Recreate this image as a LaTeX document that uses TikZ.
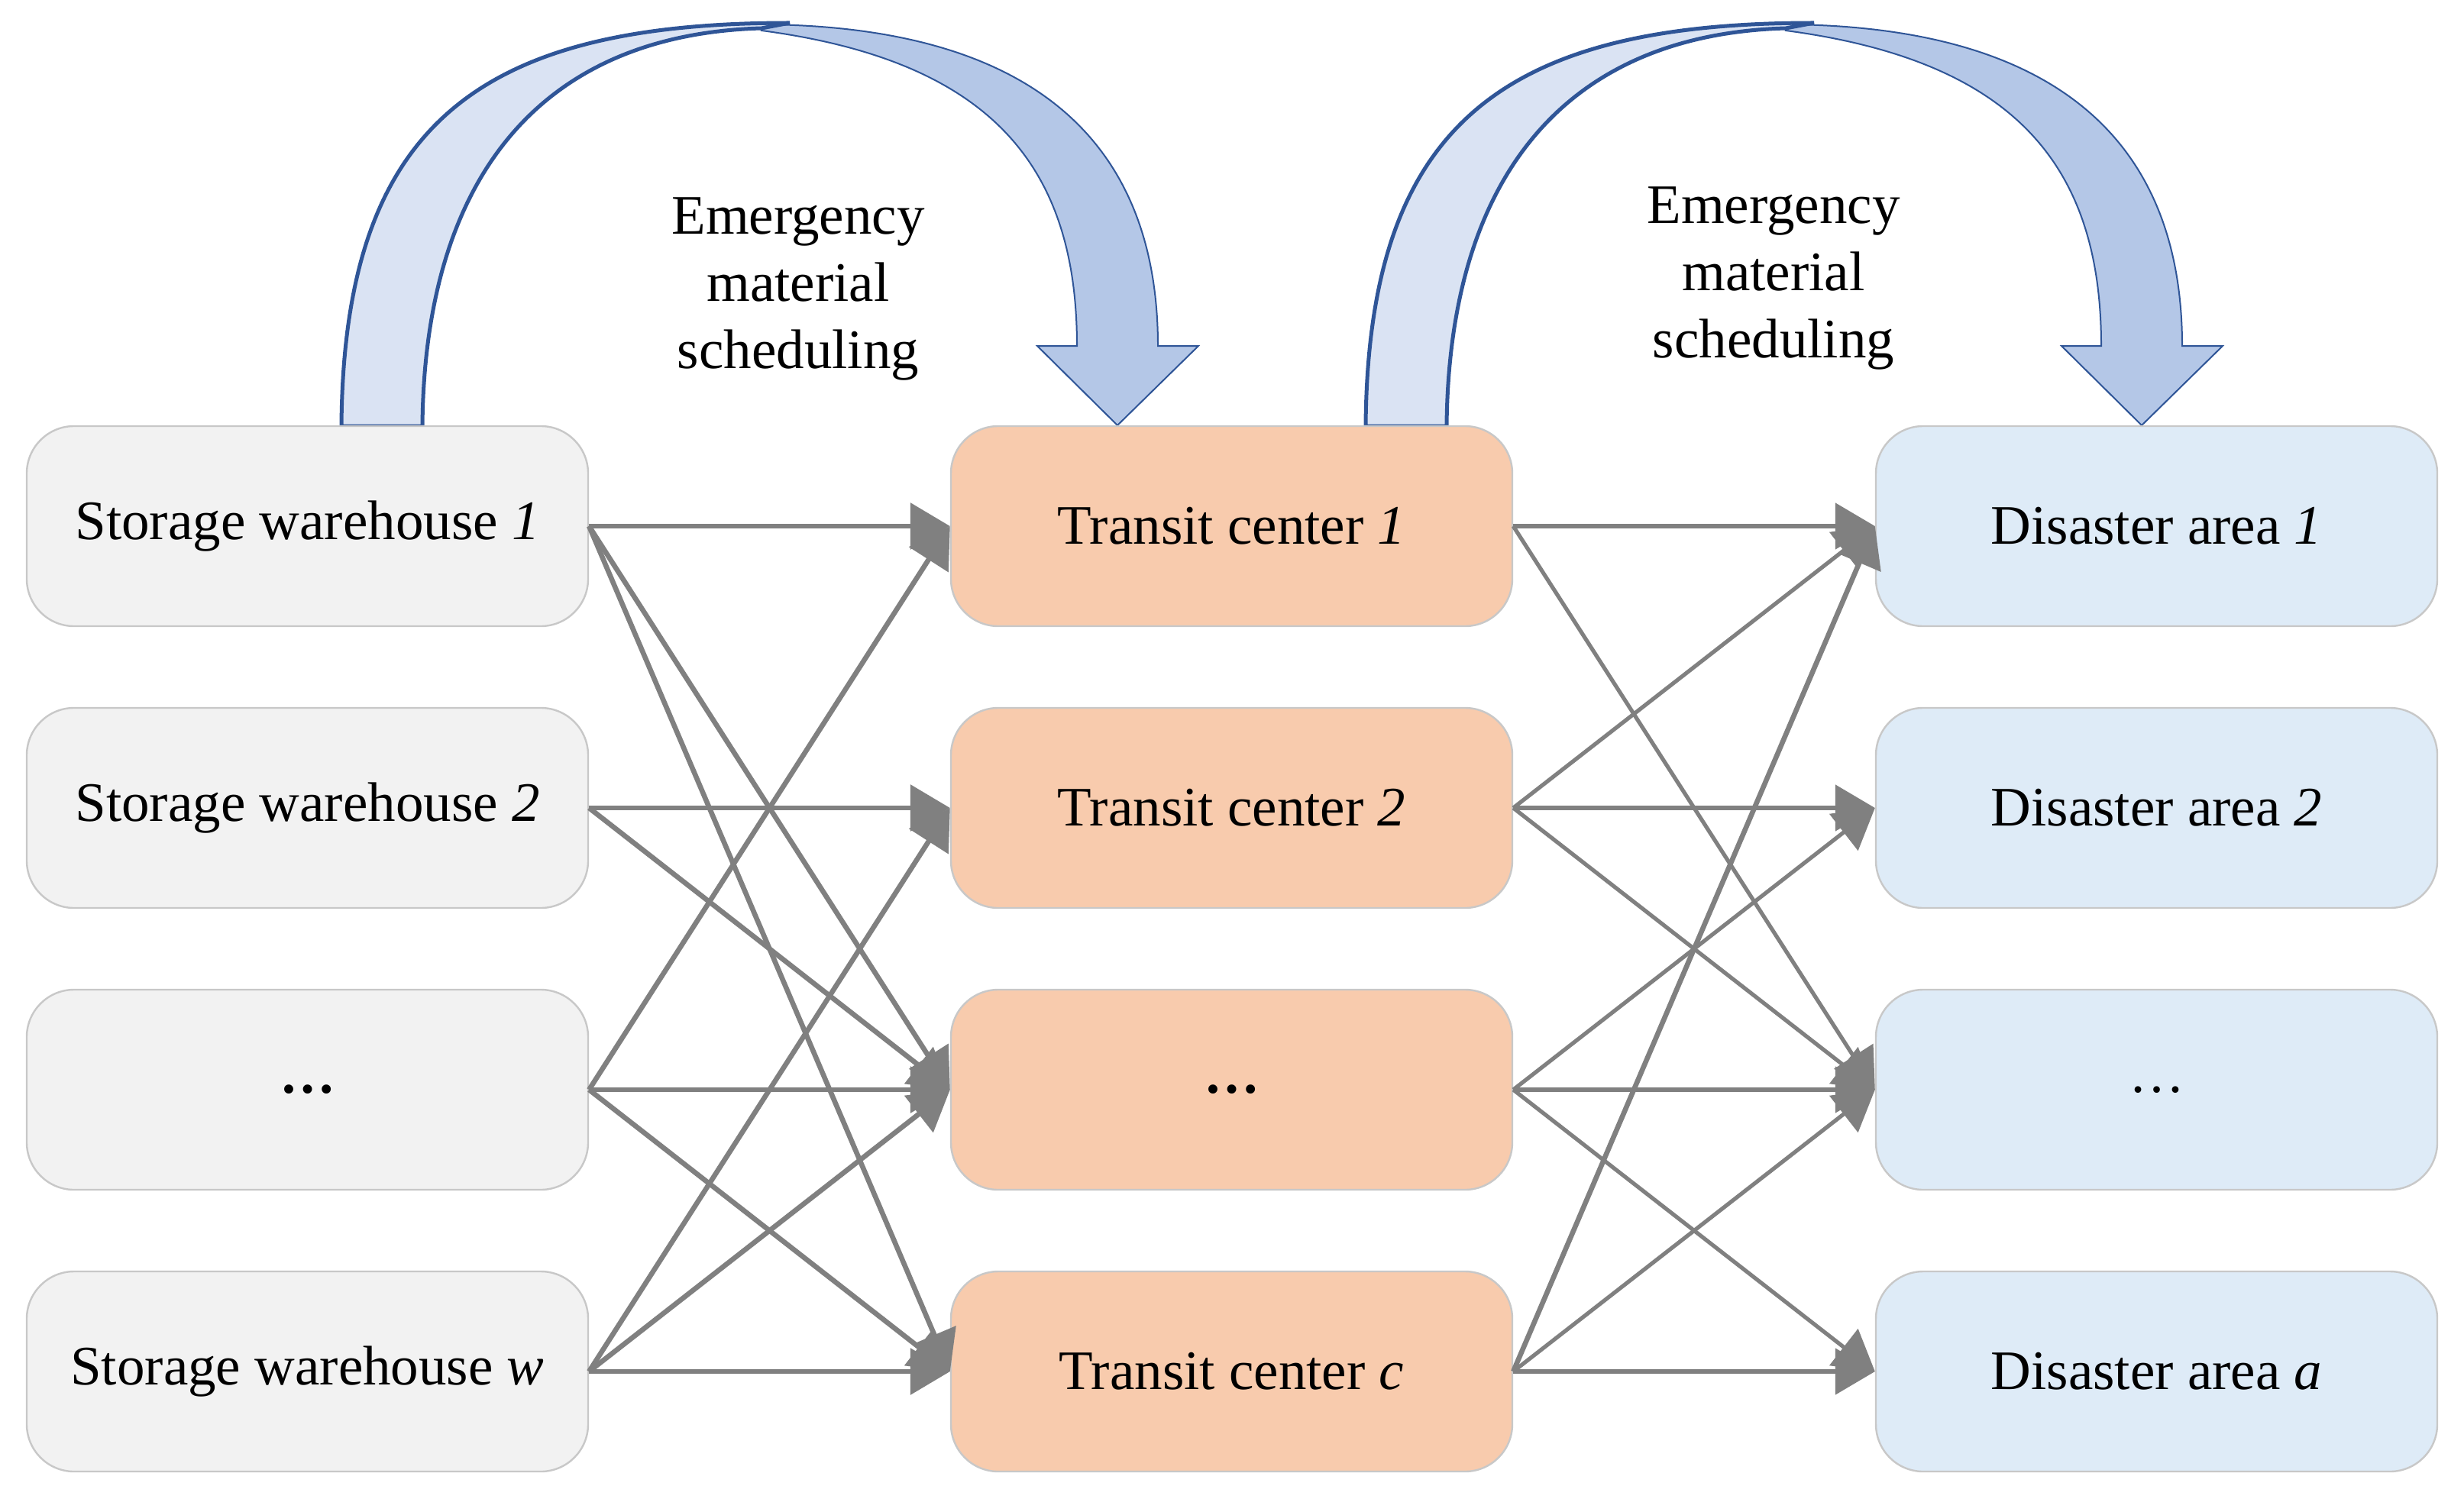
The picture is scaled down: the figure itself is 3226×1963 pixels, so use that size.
\documentclass[tikz,border=0pt]{standalone}
\usepackage{fontspec}
\setmainfont{Liberation Serif}
\usetikzlibrary{arrows.meta}
\definecolor{bxline}{HTML}{C8C8C8}
\definecolor{fw}{HTML}{F2F2F2}
\definecolor{ft}{HTML}{F8CBAD}
\definecolor{fd}{HTML}{DEEBF7}
\definecolor{edge}{HTML}{808080}
\definecolor{arrline}{HTML}{2F5597}
\definecolor{arrlight}{HTML}{DAE3F3}
\definecolor{arrdark}{HTML}{B4C7E7}
\tikzset{
  box/.style={draw=bxline,line width=1.2pt,rounded corners=31pt,minimum width=367.5pt,minimum height=131pt,inner sep=0pt,font=\fontsize{36.5}{44}\selectfont},
  wbox/.style={box,fill=fw},
  tbox/.style={box,fill=ft},
  dbox/.style={box,fill=fd},
  lnk/.style={draw=edge,line width=3.3pt,-{Triangle[length=26pt,width=30pt]}},
  rlnk/.style={draw=edge,line width=2.6pt,-{Triangle[length=26pt,width=30pt]}},
  lbl/.style={align=center,font=\fontsize{36.5}{44}\selectfont},
}
\begin{document}
\begin{tikzpicture}[x=0.5pt,y=-0.5pt]
\useasboundingbox (0,0) rectangle (3226,1963);
% curved arrows
\foreach \s in {0,1341}{
\begin{scope}[xshift=\s*0.5pt]
\filldraw[fill=arrdark,draw=arrline,line width=1pt,line join=miter]
  (1000,32) .. controls (1380,35) and (1516,210) .. (1516,453)
  -- (1569,453) -- (1463,557) -- (1358,453) -- (1410,453)
  .. controls (1410,220) and (1300,80) .. (997,40) -- cycle;
\filldraw[fill=arrlight,draw=arrline,line width=2.5pt]
  (447,558) .. controls (450,160) and (630,30) .. (1034,30)
  -- (997,37) .. controls (710,45) and (556,230) .. (553,558) -- cycle;
\end{scope}}
\node[lbl] (l1) at (1045,378) {Emergency\\material\\scheduling};
\node[lbl] (l2) at (2322,364) {Emergency\\material\\scheduling};
% nodes
\node[wbox] (w1) at (402.5,689) {Storage warehouse \textit{1}};
\node[wbox] (w2) at (402.5,1058) {Storage warehouse \textit{2}};
\node[wbox] (w3) at (402.5,1427) {\textbf{…}};
\node[wbox] (w4) at (402.5,1796) {Storage warehouse \textit{w}};
\node[tbox] (t1) at (1612.5,689) {Transit center \textit{1}};
\node[tbox] (t2) at (1612.5,1058) {Transit center \textit{2}};
\node[tbox] (t3) at (1612.5,1427) {\textbf{…}};
\node[tbox] (t4) at (1612.5,1796) {Transit center \textit{c}};
\node[dbox] (d1) at (2823.5,689) {Disaster area \textit{1}};
\node[dbox] (d2) at (2823.5,1058) {Disaster area \textit{2}};
\node[dbox] (d3) at (2823.5,1427) {…};
\node[dbox] (d4) at (2823.5,1796) {Disaster area \textit{a}};
% left links
\foreach \a/\b in {w1/t1,w1/t3,w1/t4,w2/t2,w2/t3,w3/t1,w3/t3,w3/t4,w4/t2,w4/t3,w4/t4}
  \draw[lnk] (\a.east) -- (\b.west);
% right links
\foreach \a/\b in {t1/d1,t1/d3,t2/d1,t2/d2,t2/d3,t3/d2,t3/d3,t3/d4,t4/d3,t4/d4}
  \draw[rlnk] (\a.east) -- (\b.west);
\draw[lnk] (t4.east) -- (d1.west);
\end{tikzpicture}
\end{document}
